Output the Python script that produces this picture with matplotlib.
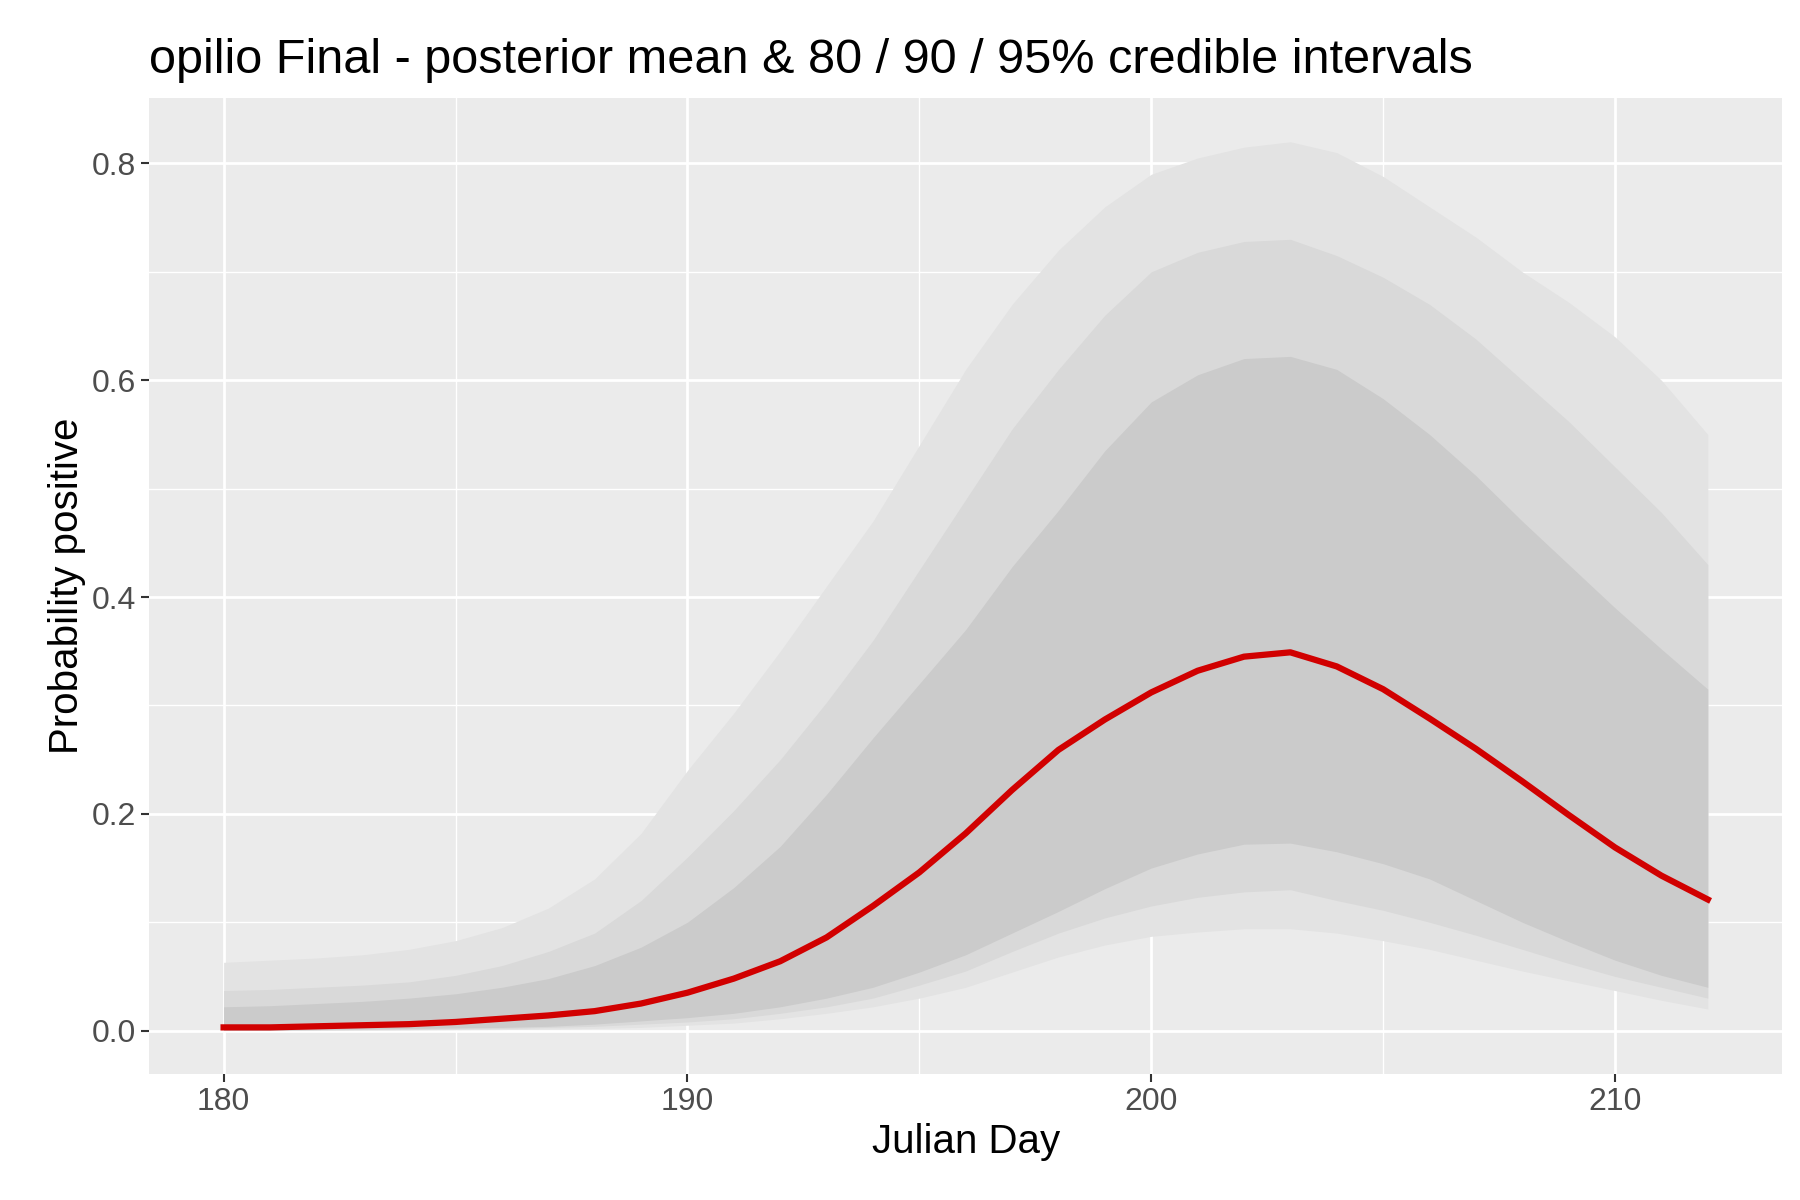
import matplotlib.pyplot as plt

plt.rcParams['font.family'] = ['Liberation Sans', 'DejaVu Sans']

days = list(range(180, 213))
mean = [0.003, 0.003, 0.004, 0.005, 0.006, 0.008, 0.011, 0.014, 0.018, 0.025, 0.035, 0.048, 0.064, 0.086, 0.115, 0.146, 0.182, 0.222,
        0.259, 0.287, 0.312, 0.332, 0.345, 0.349, 0.336, 0.315, 0.288, 0.260, 0.230, 0.199, 0.169, 0.143, 0.121]
up95 = [0.063, 0.065, 0.067, 0.070, 0.075, 0.083, 0.095, 0.113, 0.140, 0.182, 0.240, 0.293, 0.350, 0.410, 0.470, 0.540, 0.610, 0.670,
        0.720, 0.760, 0.790, 0.805, 0.815, 0.820, 0.810, 0.788, 0.760, 0.732, 0.700, 0.672, 0.640, 0.600, 0.550]
up90 = [0.037, 0.038, 0.040, 0.042, 0.045, 0.051, 0.060, 0.073, 0.090, 0.120, 0.160, 0.203, 0.250, 0.303, 0.360, 0.425, 0.490, 0.555,
        0.610, 0.660, 0.700, 0.718, 0.728, 0.730, 0.715, 0.695, 0.670, 0.638, 0.600, 0.562, 0.520, 0.478, 0.430]
up80 = [0.022, 0.023, 0.025, 0.027, 0.030, 0.034, 0.040, 0.048, 0.060, 0.077, 0.100, 0.132, 0.170, 0.218, 0.270, 0.320, 0.370, 0.428,
        0.480, 0.535, 0.580, 0.605, 0.620, 0.622, 0.610, 0.583, 0.550, 0.512, 0.470, 0.430, 0.390, 0.352, 0.315]
lo80 = [0.0005, 0.0007, 0.001, 0.0015, 0.002, 0.0025, 0.003, 0.004, 0.006, 0.009, 0.012, 0.016, 0.022, 0.030, 0.040, 0.054, 0.070, 0.090,
        0.110, 0.131, 0.150, 0.163, 0.172, 0.173, 0.165, 0.154, 0.140, 0.120, 0.100, 0.082, 0.065, 0.051, 0.040]
lo90 = [0.0003, 0.0004, 0.0006, 0.0008, 0.001, 0.0015, 0.002, 0.003, 0.004, 0.006, 0.008, 0.011, 0.016, 0.022, 0.030, 0.042, 0.055, 0.073,
        0.090, 0.104, 0.115, 0.123, 0.128, 0.130, 0.120, 0.111, 0.100, 0.088, 0.075, 0.062, 0.050, 0.040, 0.030]
lo95 = [0.0001, 0.0002, 0.0003, 0.0005, 0.0006, 0.0008, 0.001, 0.0015, 0.002, 0.003, 0.005, 0.007, 0.011, 0.016, 0.022, 0.030, 0.040, 0.054,
        0.068, 0.079, 0.087, 0.091, 0.094, 0.094, 0.090, 0.083, 0.075, 0.065, 0.055, 0.046, 0.037, 0.028, 0.020]

fig, ax = plt.subplots(figsize=(18, 12), dpi=100)
fig.subplots_adjust(left=0.083, right=0.99, top=0.918, bottom=0.105)
ax.set_facecolor('#EBEBEB')

ax.fill_between(days, lo95, up95, color='#E3E3E3', lw=0)
ax.fill_between(days, lo90, up90, color='#D9D9D9', lw=0)
ax.fill_between(days, lo80, up80, color='#CBCBCB', lw=0)
ax.plot(days, mean, color='#D10000', lw=4.5)

ax.set_xlim(178.4, 213.6)
ax.set_ylim(-0.04, 0.86)
ax.set_xticks([180, 190, 200, 210])
ax.set_yticks([0.0, 0.2, 0.4, 0.6, 0.8])
ax.set_yticklabels(['0.0', '0.2', '0.4', '0.6', '0.8'])
ax.set_xticks([185, 195, 205], minor=True)
ax.set_yticks([0.1, 0.3, 0.5, 0.7], minor=True)
ax.grid(which='major', color='white', lw=2)
ax.grid(which='minor', color='white', lw=1)
ax.set_axisbelow(True)
for s in ax.spines.values():
    s.set_visible(False)
ax.tick_params(which='major', length=6, width=1.5, color='#333333', labelsize=23, labelcolor='#4D4D4D')
ax.tick_params(which='minor', length=0)

ax.set_xlabel('Julian Day', fontsize=29)
ax.set_ylabel('Probability positive', fontsize=29)
ax.set_title('opilio Final - posterior mean & 80 / 90 / 95% credible intervals', fontsize=35, loc='left', pad=18)

fig.savefig('out.png', dpi=100)
